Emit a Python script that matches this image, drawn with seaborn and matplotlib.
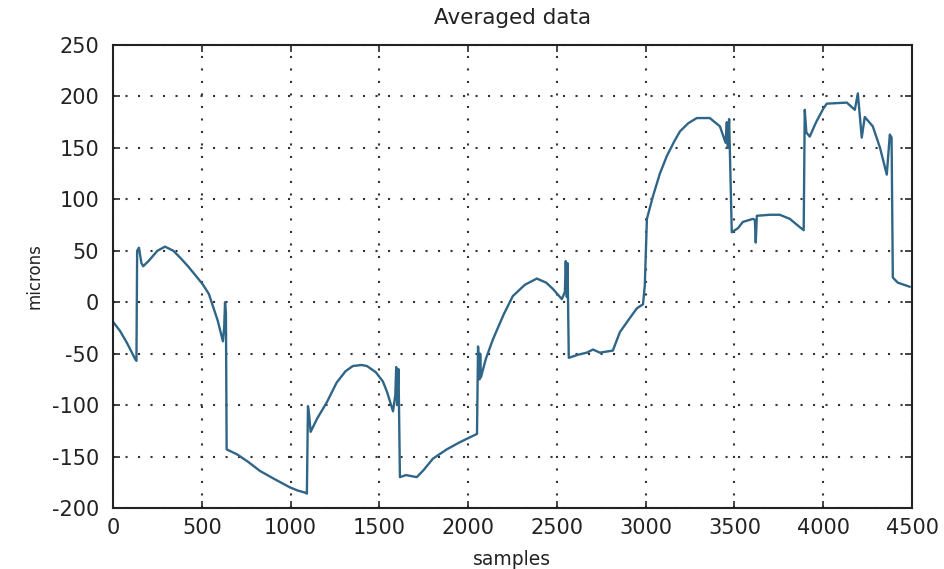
import matplotlib
matplotlib.use("Agg")
import matplotlib.pyplot as plt
import seaborn as sns
import pandas as pd

samples = [0, 40, 80, 124, 132, 136, 146, 160, 170, 200, 250, 293, 340, 380, 422,
           470, 507, 540, 563, 590, 619, 626, 631, 636, 640, 700, 760, 828, 900,
           997, 1040, 1081, 1092, 1098, 1105, 1113, 1150, 1205, 1260, 1310, 1351,
           1400, 1430, 1480, 1520, 1543, 1577, 1590, 1595, 1600, 1608, 1616, 1650,
           1711, 1750, 1802, 1880, 1954, 2050, 2056, 2064, 2068, 2072, 2100, 2140,
           2200, 2252, 2320, 2387, 2440, 2477, 2528, 2545, 2550, 2556, 2560, 2567,
           2620, 2669, 2703, 2742, 2815, 2855, 2900, 2950, 2985, 2995, 3007, 3041,
           3080, 3119, 3160, 3193, 3240, 3288, 3361, 3418, 3450, 3457, 3463, 3470,
           3485, 3520, 3547, 3604, 3615, 3620, 3626, 3700, 3755, 3812, 3868, 3890,
           3896, 3905, 3924, 3960, 4000, 4020, 4133, 4178, 4195, 4217, 4234, 4279,
           4320, 4358, 4375, 4385, 4392, 4420, 4488]
microns = [-19, -28, -40, -55, -57, 50, 53, 38, 35, 40, 50, 54, 50, 43, 35,
           25, 17, 8, -4, -18, -38, -25, 0, -10, -143, -148, -155, -164, -171,
           -180, -183, -185, -186, -101, -110, -126, -113, -97, -78, -67, -62,
           -61, -62, -68, -77, -87, -106, -90, -63, -100, -65, -170, -168,
           -170, -163, -152, -143, -136, -128, -43, -75, -50, -73, -55, -36,
           -12, 6, 17, 23, 19, 13, 3, 10, 40, 5, 38, -54,
           -51, -49, -46, -49, -47, -29, -18, -6, -2, 16, 81, 103,
           125, 142, 156, 166, 174, 179, 179, 171, 155, 175, 150, 178,
           68, 72, 78, 81, 80, 58, 84, 85, 85, 81, 73, 70,
           187, 165, 161, 175, 188, 193, 194, 187, 203, 160, 180, 171,
           150, 124, 163, 160, 24, 19, 15]

x_ticks = [0, 500, 1000, 1500, 2000, 2500, 3000, 3500, 4000, 4500]
y_ticks = [-200, -150, -100, -50, 0, 50, 100, 150, 200, 250]

df = pd.DataFrame({"samples": samples, "microns": microns})

sns.set_style("white")
plt.rcParams['font.family'] = ['DejaVu Sans']

fig = plt.figure(figsize=(9.44, 5.69), dpi=100)
ax = fig.add_axes([113 / 944, 1 - 508 / 569, (912 - 113) / 944, (508 - 45) / 569])

sns.lineplot(data=df, x="samples", y="microns", ax=ax, color="#2f6688",
             linewidth=1.7, sort=False, estimator=None)

ax.set_xlim(0, 4500)
ax.set_ylim(-200, 250)
ax.set_xticks(x_ticks)
ax.set_yticks(y_ticks)
ax.set_xticklabels([str(v) for v in x_ticks], fontsize=15, color="#222222")
ax.set_yticklabels([str(v) for v in y_ticks], fontsize=15, color="#222222")

ax.grid(True, color="#333333", linestyle=(0, (1, 5)), linewidth=1.5)
ax.tick_params(axis="both", direction="in", length=5, width=1.2, top=True,
               right=True, bottom=True, left=True)
ax.tick_params(axis="y", pad=10)
ax.tick_params(axis="x", pad=7)
for s in ax.spines.values():
    s.set_visible(True)
    s.set_color("#222222")
    s.set_linewidth(1.5)

ax.set_title("Averaged data", fontsize=15.5, color="#222222", pad=15)
ax.set_xlabel("samples", fontsize=13.5, color="#222222", labelpad=9)
ax.set_ylabel("microns", fontsize=12, color="#222222", labelpad=6)

fig.savefig("out.png", dpi=100, facecolor="white")
